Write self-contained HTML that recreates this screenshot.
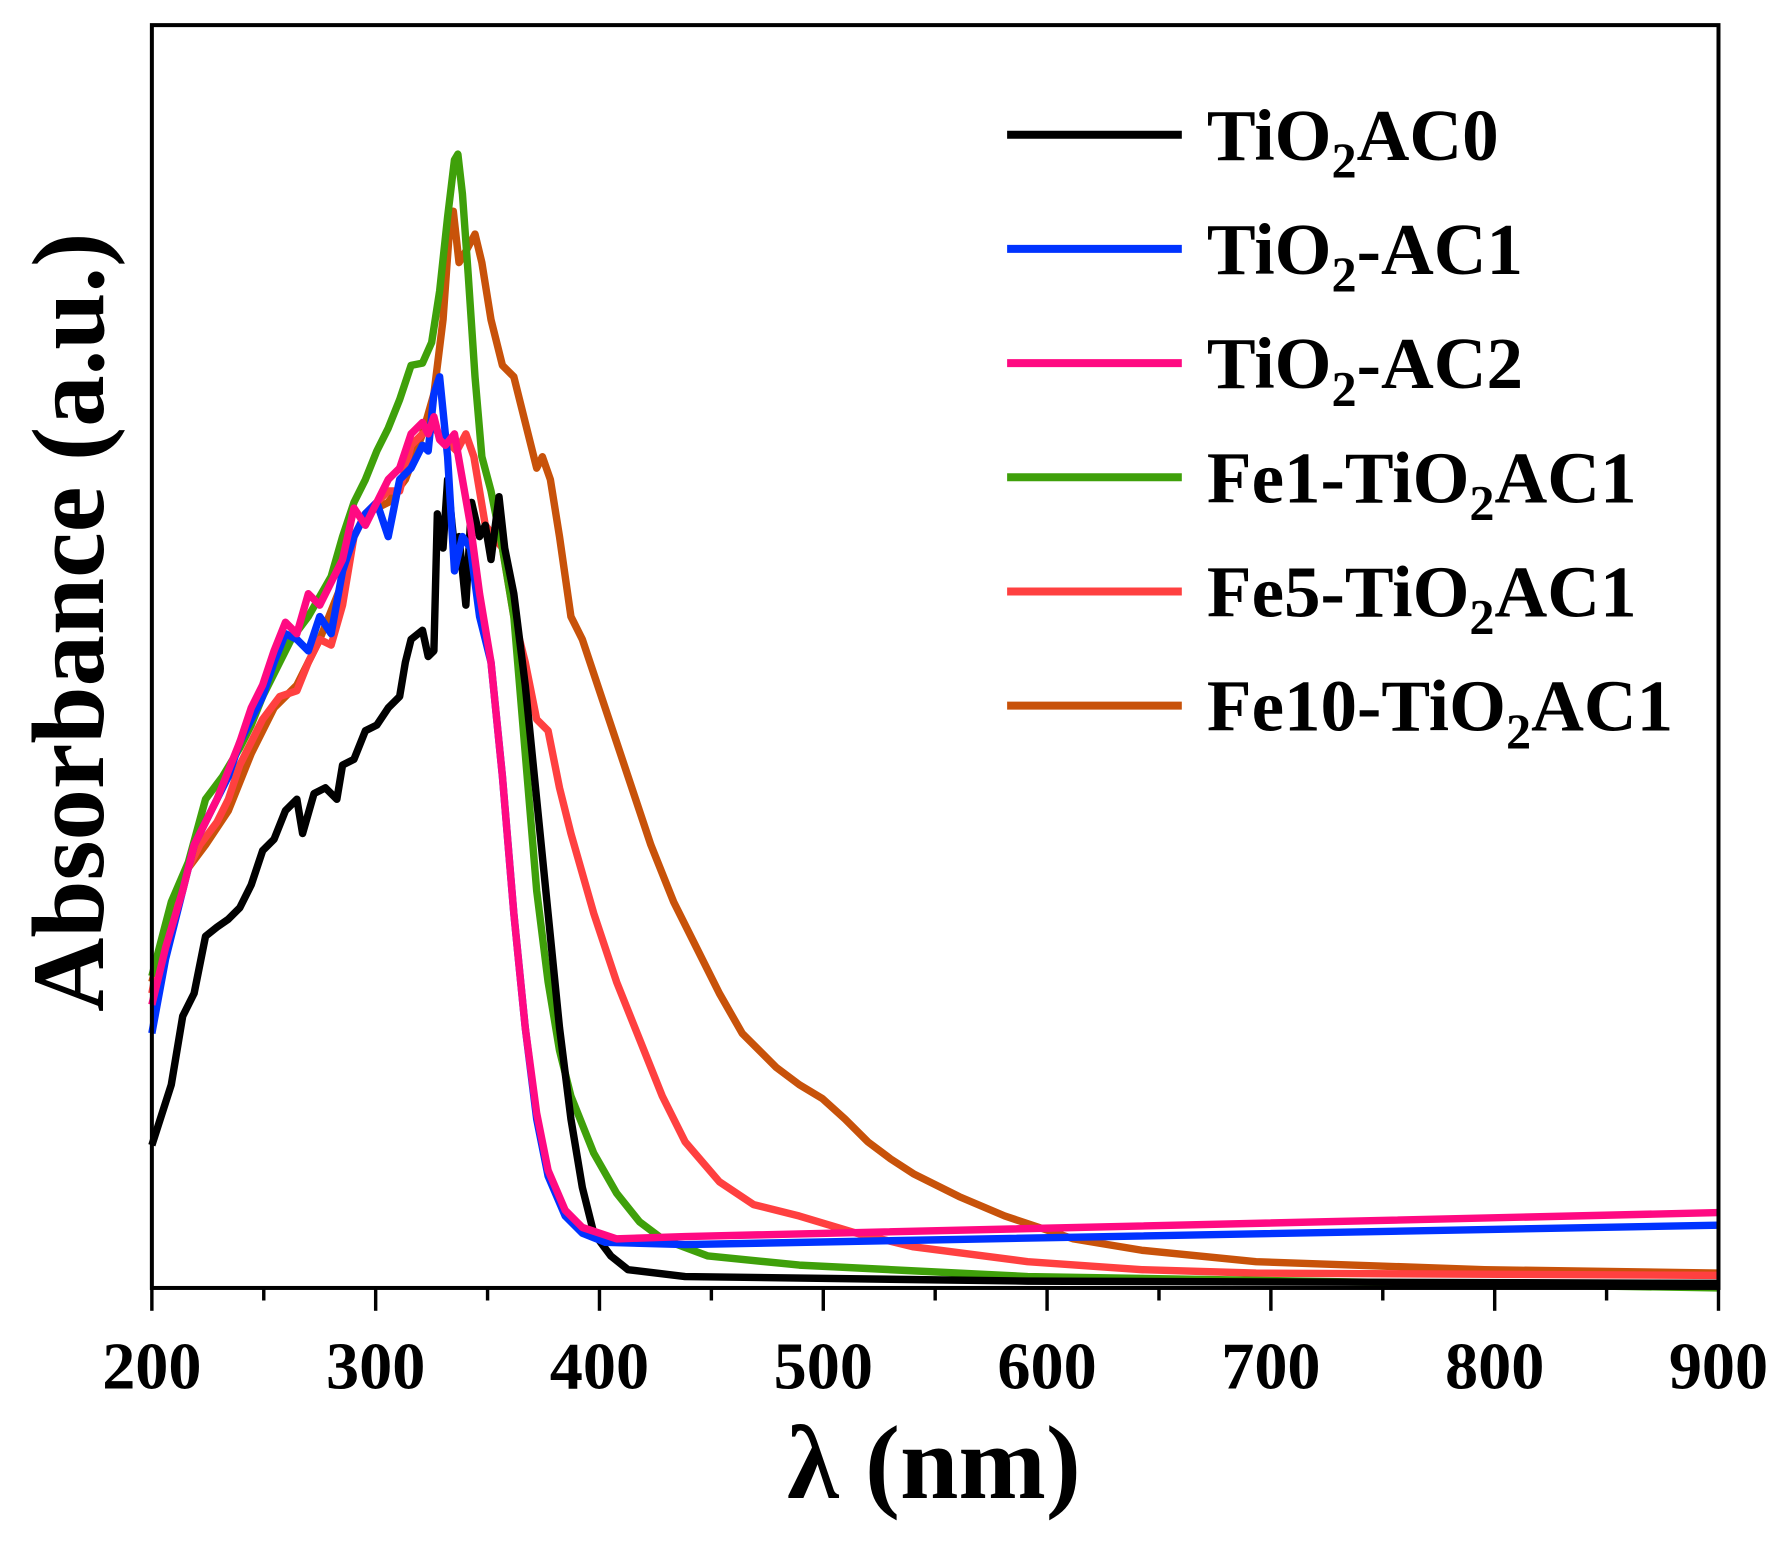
<!DOCTYPE html>
<html><head><meta charset="utf-8"><style>html,body{margin:0;padding:0;background:#fff}svg{display:block}</style></head>
<body>
<svg width="1787" height="1546" viewBox="0 0 1565 1354" preserveAspectRatio="none" xmlns="http://www.w3.org/2000/svg" font-family="'Liberation Serif',serif" font-weight="bold">
<g fill="none" stroke-width="6.5" stroke-linejoin="round">
<polyline stroke="#c8520a" points="133,860 150,800 165,760 180,740 200,710 220,660 240,620 260,600 280,560 300,510 310,470 320,450 340,440 355,420 370,380 380,345 388,280 393,210 397,185 402,230 408,220 416,205 422,230 430,280 440,320 450,330 460,370 470,410 475,400 482,420 490,470 500,540 510,560 530,620 550,680 570,740 590,790 610,830 630,870 650,905 680,935 700,950 720,962 740,980 760,1000 780,1015 800,1028 840,1048 880,1065 940,1085 1000,1095 1100,1105 1300,1112 1505,1115"/>
<polyline stroke="#ff4040" points="133,870 145,810 160,770 175,740 190,720 200,700 210,670 220,650 230,630 245,610 260,605 270,580 280,560 290,565 300,530 310,470 320,450 330,440 340,430 350,430 360,390 370,380 380,375 390,385 400,395 408,380 415,400 425,460 440,480 450,540 460,580 470,630 480,640 490,690 500,730 520,800 540,860 560,910 580,960 600,1000 630,1035 660,1055 700,1065 750,1080 800,1092 900,1105 1000,1112 1100,1115 1505,1117"/>
<polyline stroke="#3fa00a" points="133,855 150,790 165,755 180,700 195,680 210,655 220,635 230,610 245,580 255,560 270,540 290,505 300,470 310,440 320,420 330,395 340,375 350,350 360,320 370,318 378,300 385,255 392,190 398,140 401,135 405,170 410,240 416,330 422,400 430,430 440,480 450,540 460,660 470,780 480,860 490,920 500,960 520,1010 540,1045 560,1070 580,1085 620,1100 700,1108 900,1118 1505,1128"/>
<polyline stroke="#000" points="133,1003 150,950 160,890 170,870 180,820 190,812 200,805 210,795 220,775 230,745 240,735 250,710 260,700 265,730 275,695 285,690 295,700 300,670 310,665 320,640 330,635 340,620 350,610 355,580 360,560 370,552 375,575 380,570 383,450 388,480 392,420 398,480 402,470 408,530 413,440 420,470 425,460 430,490 437,435 442,480 450,520 455,560 460,600 470,700 480,800 490,900 500,980 510,1040 520,1080 535,1100 550,1112 600,1118 900,1122 1505,1124"/>
<polyline stroke="#0033ff" points="133,905 145,840 160,780 170,740 180,720 190,700 200,680 210,650 220,630 230,610 240,580 250,555 260,560 270,570 280,540 290,555 300,500 310,470 320,450 330,440 340,470 350,420 360,410 370,390 375,395 380,345 385,330 388,360 392,400 398,500 405,470 412,480 420,540 430,580 440,680 450,800 460,900 470,980 480,1030 495,1065 510,1080 530,1088 600,1090 1505,1073"/>
<polyline stroke="#ff0a82" points="133,880 145,830 160,780 170,740 180,720 190,700 200,675 210,650 220,620 230,600 240,570 250,545 260,555 270,520 280,530 290,510 300,490 310,445 320,460 330,440 340,420 350,410 360,380 370,370 375,380 380,365 385,385 390,390 398,380 405,420 412,460 420,520 430,580 440,680 450,800 460,900 470,975 480,1025 495,1060 510,1075 540,1085 600,1083 1505,1062"/>
</g>
<rect x="133" y="22" width="1372" height="1106" fill="none" stroke="#000" stroke-width="3.5"/>
<g stroke="#000" stroke-width="3">
<line x1="133" y1="1128" x2="133" y2="1148"/><line x1="231" y1="1128" x2="231" y2="1139"/>
<line x1="329" y1="1128" x2="329" y2="1148"/><line x1="427" y1="1128" x2="427" y2="1139"/>
<line x1="525" y1="1128" x2="525" y2="1148"/><line x1="623" y1="1128" x2="623" y2="1139"/>
<line x1="721" y1="1128" x2="721" y2="1148"/><line x1="819" y1="1128" x2="819" y2="1139"/>
<line x1="917" y1="1128" x2="917" y2="1148"/><line x1="1015" y1="1128" x2="1015" y2="1139"/>
<line x1="1113" y1="1128" x2="1113" y2="1148"/><line x1="1211" y1="1128" x2="1211" y2="1139"/>
<line x1="1309" y1="1128" x2="1309" y2="1148"/><line x1="1407" y1="1128" x2="1407" y2="1139"/>
<line x1="1505" y1="1128" x2="1505" y2="1148"/>
</g>
<g font-size="58" text-anchor="middle">
<text x="133" y="1216">200</text><text x="329" y="1216">300</text><text x="525" y="1216">400</text><text x="721" y="1216">500</text><text x="917" y="1216">600</text><text x="1113" y="1216">700</text><text x="1309" y="1216">800</text><text x="1505" y="1216">900</text>
</g>
<text x="818" y="1312" font-size="92" text-anchor="middle">λ (nm)</text>
<text transform="translate(90,545) rotate(-90)" font-size="90" text-anchor="middle">Absorbance (a.u.)</text>
<g stroke-width="7">
<line x1="882" y1="118" x2="1035" y2="118" stroke="#000"/>
<line x1="882" y1="218" x2="1035" y2="218" stroke="#0033ff"/>
<line x1="882" y1="318" x2="1035" y2="318" stroke="#ff0a82"/>
<line x1="882" y1="418" x2="1035" y2="418" stroke="#3fa00a"/>
<line x1="882" y1="518" x2="1035" y2="518" stroke="#ff4040"/>
<line x1="882" y1="618" x2="1035" y2="618" stroke="#c8520a"/>
</g>
<g font-size="64">
<text x="1057" y="140">TiO<tspan font-size="44" dy="15">2</tspan><tspan dy="-15">AC0</tspan></text>
<text x="1057" y="240">TiO<tspan font-size="44" dy="15">2</tspan><tspan dy="-15">-AC1</tspan></text>
<text x="1057" y="340">TiO<tspan font-size="44" dy="15">2</tspan><tspan dy="-15">-AC2</tspan></text>
<text x="1057" y="440">Fe1-TiO<tspan font-size="44" dy="15">2</tspan><tspan dy="-15">AC1</tspan></text>
<text x="1057" y="540">Fe5-TiO<tspan font-size="44" dy="15">2</tspan><tspan dy="-15">AC1</tspan></text>
<text x="1057" y="640">Fe10-TiO<tspan font-size="44" dy="15">2</tspan><tspan dy="-15">AC1</tspan></text>
</g>
</svg>
</body></html>
